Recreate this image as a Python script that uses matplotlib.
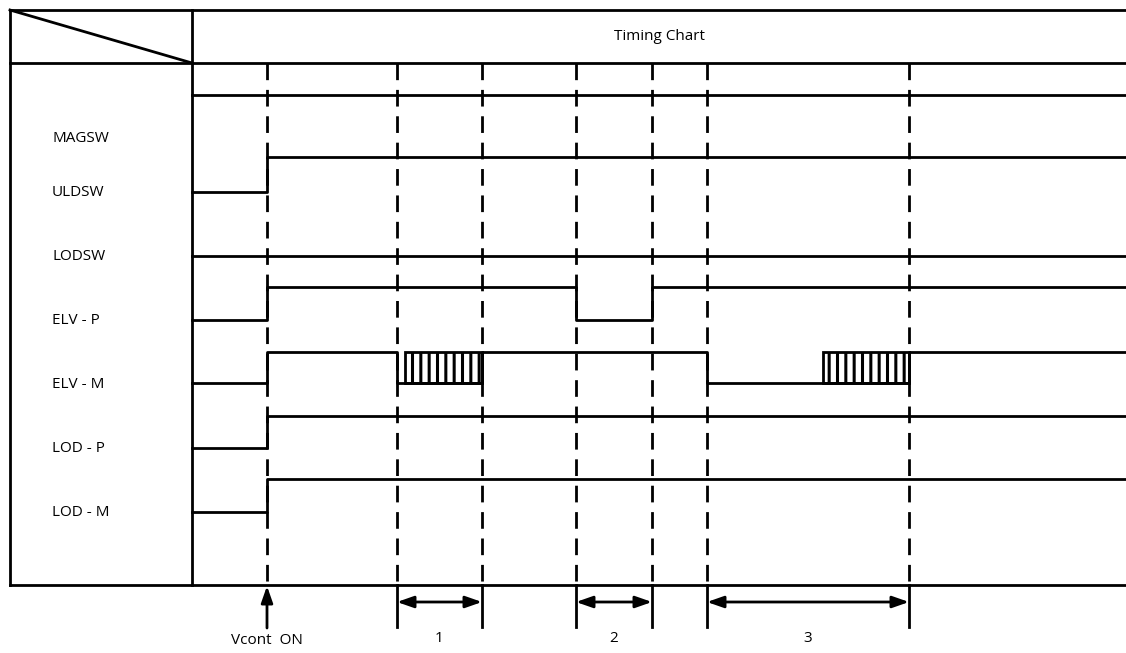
import matplotlib.pyplot as plt
from matplotlib.patches import Rectangle

plt.rcParams['font.family'] = ['Open Sans', 'DejaVu Sans']
plt.rcParams['hatch.linewidth'] = 2.2

# signal names and their row levels (y in chart units, top = 0)
signals = ['MAGSW', 'ULDSW', 'LODSW', 'ELV - P', 'ELV - M', 'LOD - P', 'LOD - M']
label_y = [139, 192, 256, 320, 384, 448, 512]
high_y = [95, 157, 256, 287, 352, 416, 479]
low_y = [128, 192, 256, 320, 383, 448, 512]

# transitions (time position) and states (0 = low, 1 = high)
edges = {
    'MAGSW': ([192], [1]),
    'ULDSW': ([192, 267], [0, 1]),
    'LODSW': ([192], [1]),
    'ELV - P': ([192, 267, 576, 652], [0, 1, 0, 1]),
    'ELV - M': ([192, 267, 397, 482, 707, 909], [0, 1, 0, 1, 0, 1]),
    'LOD - P': ([192, 267], [0, 1]),
    'LOD - M': ([192, 267], [0, 1]),
}
# pulse-train bursts on ELV-M
bursts = [(405, 482), (823, 909)]

# event marker lines and measured intervals
vcont_x = 267
event_x = [397, 482, 576, 652, 707, 909]
intervals = [(397, 482, '1'), (576, 652, '2'), (707, 909, '3')]

t_end = 1126

fig = plt.figure(figsize=(11.26, 6.53), dpi=100)
ax = fig.add_axes([0, 0, 1, 1])
ax.set_xlim(0, 1126)
ax.set_ylim(653, 0)
ax.axis('off')

lw = 2.0
k = 'black'

# frame
ax.plot([10, t_end], [10, 10], color=k, lw=lw)
ax.plot([10, t_end], [63, 63], color=k, lw=lw)
ax.plot([10, t_end], [585, 585], color=k, lw=lw)
ax.plot([10, 10], [10, 585], color=k, lw=lw)
ax.plot([192, 192], [10, 585], color=k, lw=lw)
ax.plot([10, 192], [10, 63], color=k, lw=lw)
ax.text(660, 37, 'Timing Chart', ha='center', va='center', fontsize=11)

# signal labels
for name, y in zip(signals, label_y):
    ax.text(52, y, name, ha='left', va='center', fontsize=11)

# signal traces
for i, name in enumerate(signals):
    xs, st = edges[name]
    ys = [high_y[i] if s else low_y[i] for s in st]
    ax.step(xs + [t_end], ys + [ys[-1]], where='post', color=k, lw=lw)

# bursts
j = signals.index('ELV - M')
for x0, x1 in bursts:
    ax.add_patch(Rectangle((x0, high_y[j]), x1 - x0, low_y[j] - high_y[j],
                           facecolor='white', edgecolor=k, lw=lw, hatch='||'))

# dashed event lines
dash = (0, (6, 3.5))
ax.plot([vcont_x, vcont_x], [63, 585], color=k, lw=lw, ls=dash)
for x in event_x:
    ax.plot([x, x], [63, 585], color=k, lw=lw, ls=dash)
    ax.plot([x, x], [585, 627], color=k, lw=lw)

# Vcont ON arrow
ax.annotate('', xy=(vcont_x, 586), xytext=(vcont_x, 628),
            arrowprops=dict(arrowstyle='-|>,head_length=1.0,head_width=0.35',
                            color=k, lw=lw, shrinkA=0, shrinkB=0))
ax.text(vcont_x, 641, 'Vcont  ON', ha='center', va='center', fontsize=11)

# interval arrows
for x0, x1, lab in intervals:
    ax.annotate('', xy=(x1, 602), xytext=(x0, 602),
                arrowprops=dict(arrowstyle='<|-|>,head_length=1.0,head_width=0.35',
                                color=k, lw=lw, shrinkA=0, shrinkB=0))
    ax.text((x0 + x1) / 2, 638, lab, ha='center', va='center', fontsize=11)

fig.savefig('out.png', dpi=100)
